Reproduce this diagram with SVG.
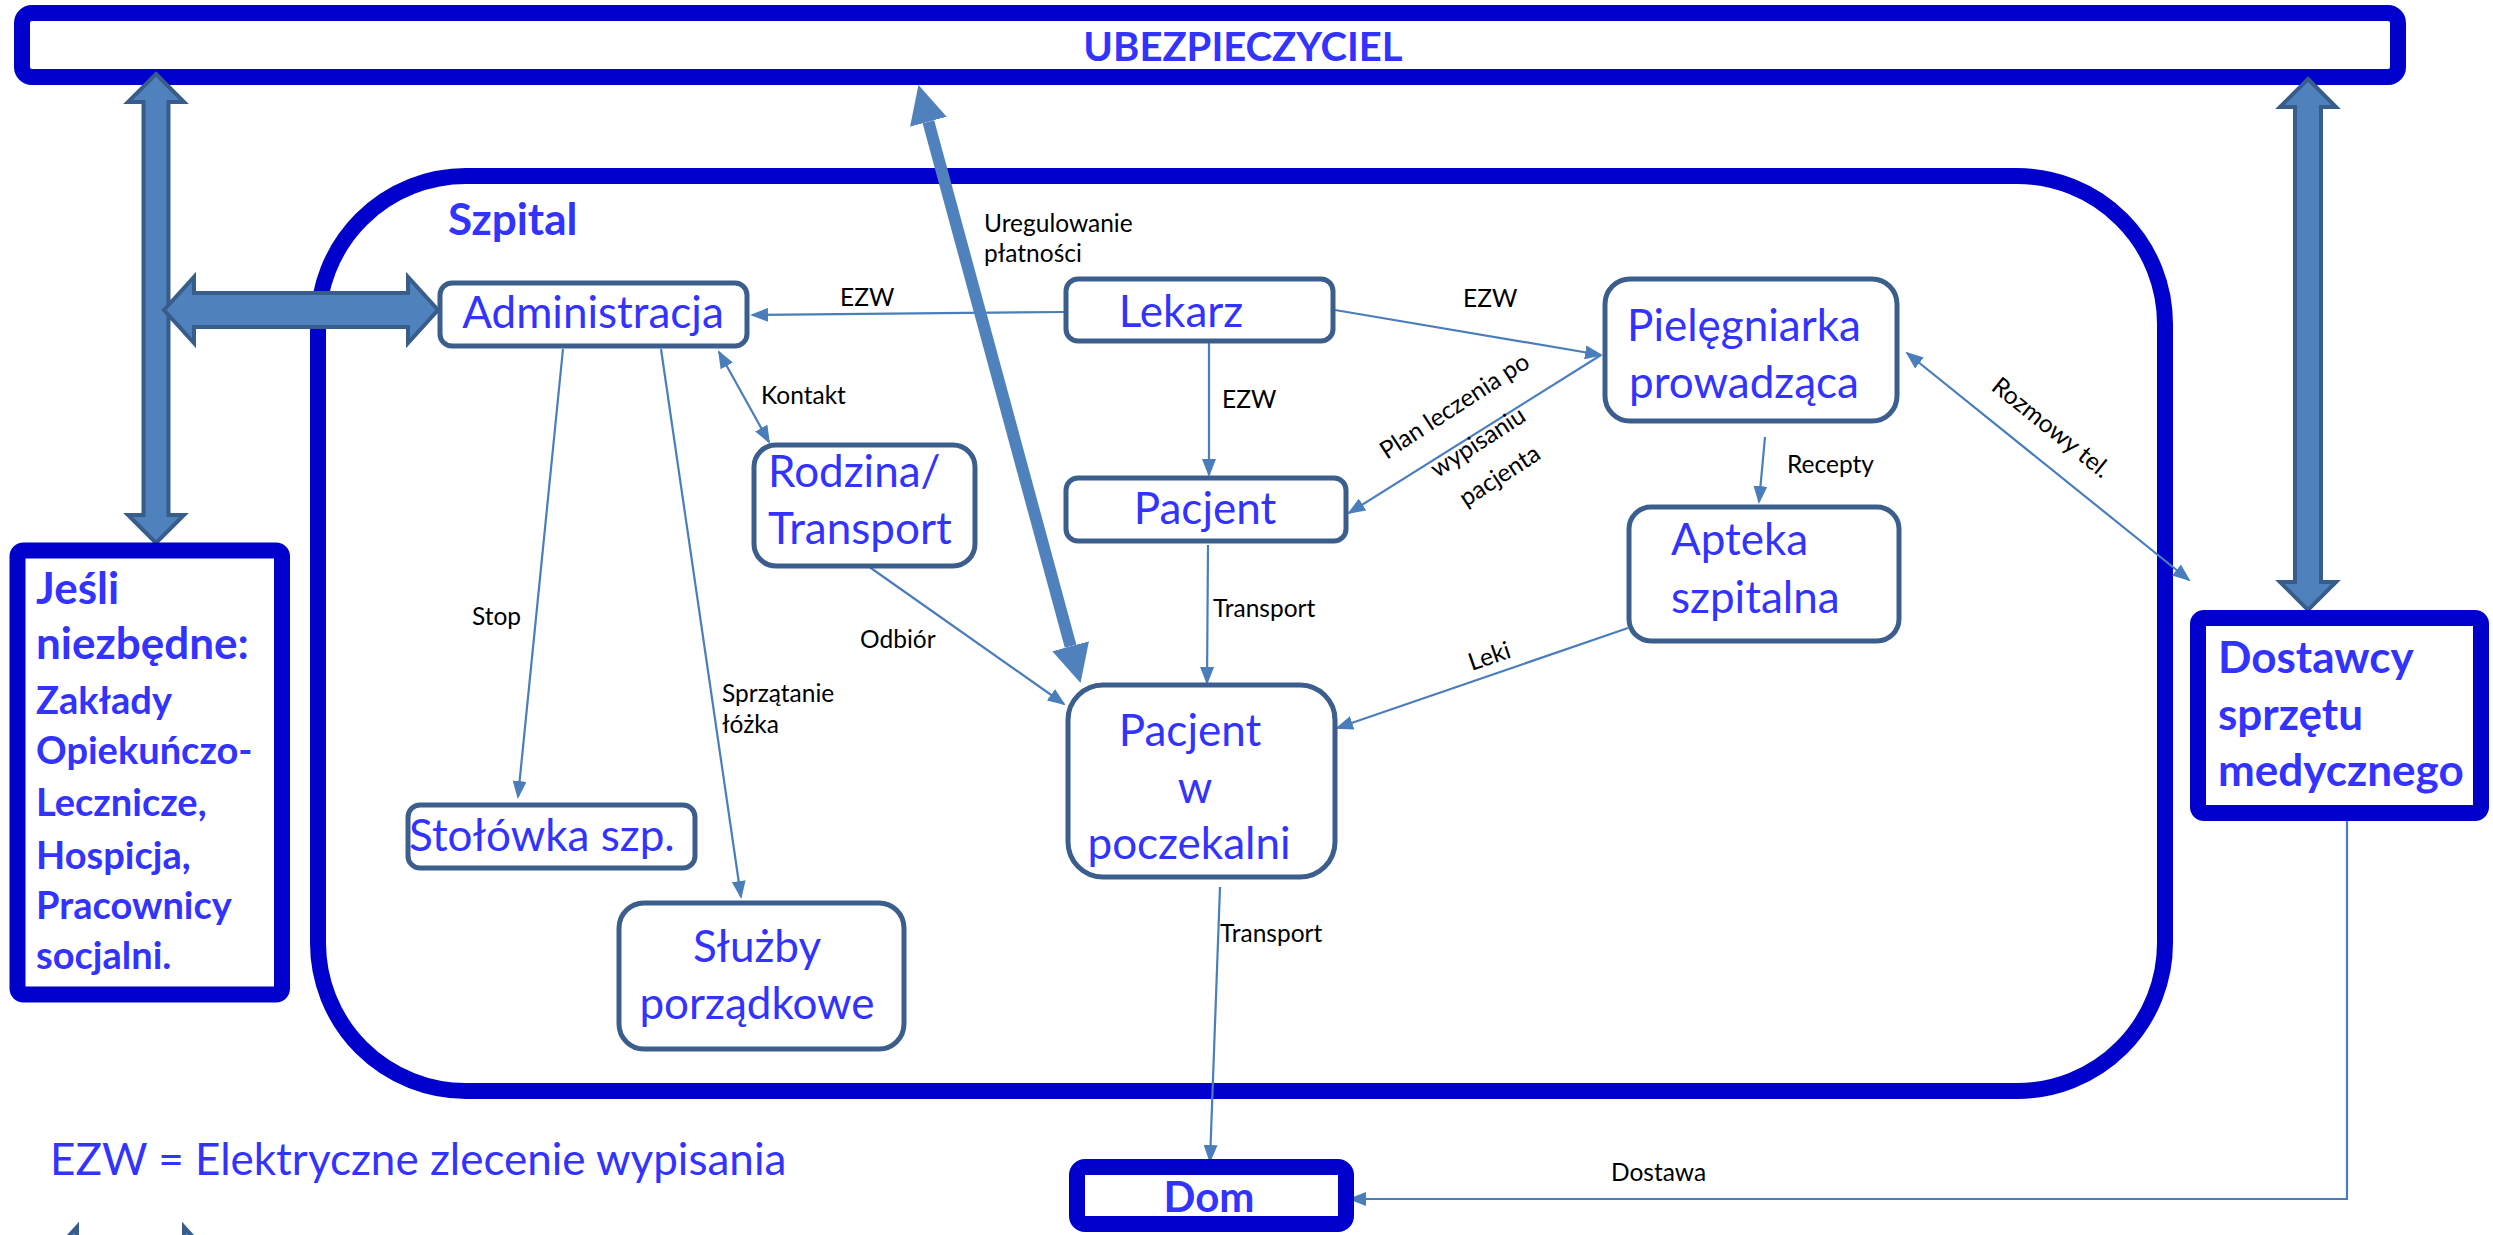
<svg xmlns="http://www.w3.org/2000/svg" width="2493" height="1235" viewBox="0 0 2493 1235">
<defs>
<style>
.frame{fill:#fff;stroke:#0000CC;stroke-width:16}
.node{fill:#fff;stroke:#3B5E8C;stroke-width:5}
.nt{font-family:Lato,"Liberation Sans",sans-serif;font-size:44px;fill:#3333FF}
.bt{font-family:Lato,"Liberation Sans",sans-serif;font-weight:bold;fill:#3333FF}
.lbl{font-family:Lato,"Liberation Sans",sans-serif;font-size:24.5px;fill:#000}
.con{fill:none;stroke:#4A7EBB;stroke-width:2.2}
.big{fill:#4F81BD;stroke:#385D8A;stroke-width:4;stroke-linejoin:miter}
</style>
<marker id="ah" markerUnits="userSpaceOnUse" viewBox="0 0 18 14" markerWidth="18" markerHeight="14" refX="16" refY="7" orient="auto-start-reverse"><path d="M0,0 L18,7 L0,14 z" fill="#4A7EBB"/></marker>
<marker id="ahBig" markerUnits="userSpaceOnUse" viewBox="0 0 38 38" markerWidth="38" markerHeight="38" refX="0" refY="19" orient="auto-start-reverse"><path d="M0,0 L38,19 L0,38 z" fill="#4F81BD"/></marker>
</defs>
<rect width="2493" height="1235" fill="#fff"/>

<g id="szpital">
<rect class="frame" x="318" y="176" width="1847" height="915" rx="148" ry="148"/>
<text class="bt" x="448" y="235" font-size="44">Szpital</text>
</g>

<g id="ubezpieczyciel">
<rect class="frame" x="22" y="13" width="2376" height="64" rx="10"/>
<text class="bt" x="1243" y="61" font-size="40" text-anchor="middle">UBEZPIECZYCIEL</text>
</g>

<g id="connectors">
<line class="con" x1="1064" y1="312" x2="752" y2="315" marker-end="url(#ah)"/>
<line class="con" x1="1335" y1="310" x2="1601" y2="355" marker-end="url(#ah)"/>
<line class="con" x1="1209" y1="343" x2="1209" y2="475" marker-end="url(#ah)"/>
<line class="con" x1="1601" y1="355" x2="1349" y2="513" marker-end="url(#ah)"/>
<line class="con" x1="719" y1="352" x2="769" y2="442" marker-start="url(#ah)" marker-end="url(#ah)"/>
<line class="con" x1="563" y1="349" x2="518" y2="797" marker-end="url(#ah)"/>
<line class="con" x1="661" y1="349" x2="741" y2="897" marker-end="url(#ah)"/>
<line class="con" x1="868" y1="566" x2="1064" y2="704" marker-end="url(#ah)"/>
<line class="con" x1="1208" y1="545" x2="1207" y2="683" marker-end="url(#ah)"/>
<line class="con" x1="1765" y1="437" x2="1759" y2="502" marker-end="url(#ah)"/>
<line class="con" x1="1628" y1="628" x2="1337" y2="728" marker-end="url(#ah)"/>
<line class="con" x1="1907" y1="353" x2="2189" y2="580" marker-start="url(#ah)" marker-end="url(#ah)"/>
<line class="con" x1="1220" y1="887" x2="1210" y2="1161" marker-end="url(#ah)"/>
<polyline class="con" points="2347,821 2347,1199 1350,1199" marker-end="url(#ah)"/>
<line x1="928.4" y1="121.7" x2="1070.6" y2="646.3" stroke="#4F81BD" stroke-width="12" marker-start="url(#ahBig)" marker-end="url(#ahBig)"/>
<polygon class="big" points="156,74 184,102 168.5,102 168.5,515 184,515 156,543 128,515 143.5,515 143.5,102 128,102"/>
<polygon class="big" points="164,310 194,277 194,293 408,293 408,277 438,310 408,343 408,327 194,327 194,343"/>
<polygon class="big" points="2308,79 2336,107 2321,107 2321,582 2336,582 2308,610 2280,582 2295,582 2295,107 2280,107"/>
<polygon class="big" points="47,1260 77,1227 77,1243 184,1243 184,1227 214,1260 184,1293 184,1277 77,1277 77,1293"/>
<text class="lbl" x="840" y="306">EZW</text>
<text class="lbl" x="1463" y="307">EZW</text>
<text class="lbl" x="1222" y="408">EZW</text>
<text class="lbl" x="984" y="232">Uregulowanie</text>
<text class="lbl" x="984" y="262">płatności</text>
<text class="lbl" x="761" y="404">Kontakt</text>
<text class="lbl" x="472" y="625">Stop</text>
<text class="lbl" x="722" y="702">Sprzątanie</text>
<text class="lbl" x="722" y="733">łóżka</text>
<text class="lbl" x="860" y="648">Odbiór</text>
<text class="lbl" x="1213" y="617">Transport</text>
<text class="lbl" x="1787" y="473">Recepty</text>
<text class="lbl" x="1220" y="942">Transport</text>
<text class="lbl" x="1611" y="1181">Dostawa</text>
<g transform="translate(1492,664) rotate(-19)"><text class="lbl" x="0" y="0" text-anchor="middle">Leki</text></g>
<g transform="translate(2046,434) rotate(38.8)"><text class="lbl" x="0" y="0" text-anchor="middle">Rozmowy tel.</text></g>
<g transform="translate(1459,413) rotate(-33)">
<text class="lbl" x="0" y="0" text-anchor="middle">Plan leczenia po</text>
<text class="lbl" x="0" y="43" text-anchor="middle">wypisaniu</text>
<text class="lbl" x="0" y="83" text-anchor="middle">pacjenta</text>
</g>
</g>

<g id="administracja">
<rect class="node" x="440" y="283" width="307" height="63" rx="12"/>
<text class="nt" x="593" y="328" text-anchor="middle" font-size="45">Administracja</text>
</g>
<g id="lekarz">
<rect class="node" x="1066" y="279" width="267" height="62" rx="12"/>
<text class="nt" x="1181" y="327" text-anchor="middle">Lekarz</text>
</g>
<g id="pacjent">
<rect class="node" x="1066" y="478" width="280" height="63" rx="12"/>
<text class="nt" x="1205" y="524" text-anchor="middle">Pacjent</text>
</g>
<g id="pielegniarka">
<rect class="node" x="1605" y="279" width="292" height="142" rx="25"/>
<text class="nt" x="1744" y="341" text-anchor="middle">Pielęgniarka</text>
<text class="nt" x="1744" y="398" text-anchor="middle">prowadząca</text>
</g>
<g id="apteka">
<rect class="node" x="1629" y="507" width="270" height="134" rx="22"/>
<text class="nt" x="1671" y="555" font-size="46">Apteka</text>
<text class="nt" x="1671" y="613" font-size="46">szpitalna</text>
</g>
<g id="rodzina">
<rect class="node" x="754" y="445" width="221" height="121" rx="22"/>
<text class="nt" x="768" y="487" font-size="48">Rodzina/</text>
<text class="nt" x="768" y="544" font-size="48">Transport</text>
</g>
<g id="poczekalnia">
<rect class="node" x="1068" y="685" width="267" height="192" rx="35"/>
<text class="nt" x="1190" y="746" text-anchor="middle" font-size="45">Pacjent</text>
<text class="nt" x="1195" y="803" text-anchor="middle" font-size="45">w</text>
<text class="nt" x="1189" y="859" text-anchor="middle" font-size="45">poczekalni</text>
</g>
<g id="stolowka">
<rect class="node" x="408" y="805" width="287" height="63" rx="12"/>
<text class="nt" x="409" y="851" font-size="46">Stołówka szp.</text>
</g>
<g id="sluzby">
<rect class="node" x="619" y="903" width="285" height="146" rx="25"/>
<text class="nt" x="757" y="962" text-anchor="middle" font-size="45">Służby</text>
<text class="nt" x="757" y="1019" text-anchor="middle" font-size="45">porządkowe</text>
</g>
<g id="jesli">
<rect class="frame" x="17.5" y="550.5" width="264.5" height="444" rx="6"/>
<text class="bt" x="36" y="604" font-size="44">Jeśli</text>
<text class="bt" x="36" y="659" font-size="44">niezbędne:</text>
<text class="bt" x="36" y="714" font-size="38">Zakłady</text>
<text class="bt" x="36" y="764" font-size="38">Opiekuńczo-</text>
<text class="bt" x="36" y="816" font-size="38">Lecznicze,</text>
<text class="bt" x="36" y="869" font-size="38">Hospicja,</text>
<text class="bt" x="36" y="919" font-size="38">Pracownicy</text>
<text class="bt" x="36" y="969" font-size="38">socjalni.</text>
</g>
<g id="dostawcy">
<rect class="frame" x="2198" y="618" width="283" height="195" rx="6"/>
<text class="bt" x="2218" y="673" font-size="44">Dostawcy</text>
<text class="bt" x="2218" y="730" font-size="44">sprzętu</text>
<text class="bt" x="2218" y="786" font-size="44">medycznego</text>
</g>
<g id="dom">
<rect class="frame" x="1077" y="1167" width="269" height="57" rx="8"/>
<text class="bt" x="1209" y="1212" font-size="42" text-anchor="middle">Dom</text>
</g>
<g id="legenda">
<text class="nt" x="50" y="1175" font-size="41.5">EZW = Elektryczne zlecenie wypisania</text>
</g>
</svg>
